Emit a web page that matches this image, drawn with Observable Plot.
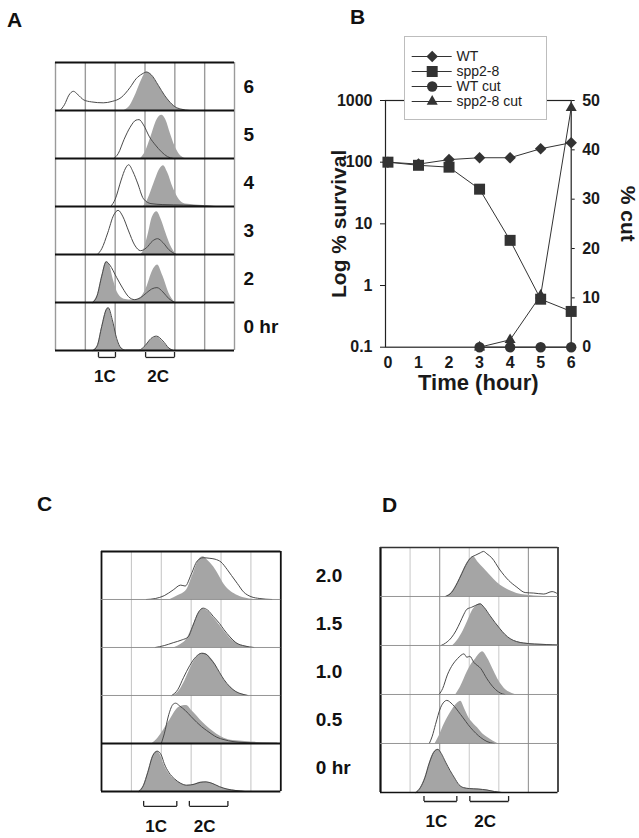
<!DOCTYPE html>
<html><head><meta charset="utf-8">
<script src="https://cdn.jsdelivr.net/npm/d3@7"></script>
<script src="https://cdn.jsdelivr.net/npm/@observablehq/plot@0.6"></script>
<style>
body{margin:0;background:#fff;}
#fig{position:relative;width:639px;height:838px;overflow:hidden;background:#fff;font-family:"Liberation Sans",Arial,Helvetica,sans-serif;color:#111;}
.panel{position:absolute;}
.panel svg{display:block;}
.letter{position:absolute;font-weight:bold;font-size:21px;line-height:1;}
.legend{position:absolute;box-sizing:border-box;border:1px solid #bdbdbd;background:#fff;}
</style></head><body><div id="fig"></div>
<script>
// ---------------- DATA ----------------
// Panel A: flow-cytometry histograms (x in grid columns 0–6, y as fraction of row height)
const rowsA = ["6", "5", "4", "3", "2", "0 hr"];
const fillA = [
  [[2.3,0],[2.5,0.1],[2.7,0.35],[2.9,0.65],[3.05,0.8],[3.2,0.75],[3.45,0.52],[3.65,0.32],[3.8,0.2],[4.0,0.08],[4.2,0.02],[4.4,0]],
  [[2.85,0],[3.0,0.12],[3.2,0.45],[3.4,0.8],[3.56,0.9],[3.7,0.8],[3.85,0.52],[4.0,0.26],[4.15,0.09],[4.35,0]],
  [[2.95,0],[3.1,0.15],[3.3,0.48],[3.5,0.78],[3.62,0.85],[3.75,0.72],[3.95,0.38],[4.15,0.14],[4.35,0.05],[4.7,0.03],[5.2,0.01],[5.4,0]],
  [[2.85,0],[2.95,0.08],[3.1,0.4],[3.25,0.78],[3.4,0.89],[3.55,0.72],[3.7,0.45],[3.85,0.2],[4.05,0]],
  [[1.25,0],[1.4,0.15],[1.55,0.55],[1.7,0.85],[1.8,0.8],[1.95,0.45],[2.1,0.18],[2.3,0.07],[2.6,0.05],[2.85,0.1],[3.05,0.3],[3.25,0.65],[3.42,0.78],[3.6,0.55],[3.8,0.2],[4.0,0]],
  [[1.25,0],[1.4,0.1],[1.55,0.5],[1.7,0.85],[1.77,0.89],[1.9,0.65],[2.05,0.25],[2.2,0.05],[2.35,0],[2.85,0],[3.0,0.08],[3.2,0.22],[3.4,0.28],[3.6,0.18],[3.8,0.05],[3.95,0]]
];
const lineA = [
  [[0.15,0],[0.3,0.12],[0.45,0.32],[0.6,0.4],[0.75,0.33],[0.95,0.22],[1.2,0.18],[1.6,0.16],[1.9,0.19],[2.2,0.27],[2.5,0.48],[2.7,0.66],[2.9,0.76],[3.05,0.8],[3.2,0.75],[3.45,0.52],[3.65,0.32],[3.8,0.2],[4.0,0.08],[4.2,0.03],[4.5,0]],
  [[1.95,0],[2.1,0.1],[2.3,0.4],[2.5,0.65],[2.7,0.8],[2.8,0.81],[2.95,0.7],[3.15,0.45],[3.35,0.28],[3.55,0.14],[3.75,0.04],[3.95,0]],
  [[1.85,0],[2.0,0.15],[2.2,0.55],[2.35,0.8],[2.45,0.87],[2.6,0.72],[2.75,0.49],[2.95,0.16],[3.2,0.06],[3.6,0.04],[4.3,0.03],[5.0,0.01],[5.3,0]],
  [[1.4,0],[1.55,0.12],[1.75,0.45],[1.95,0.82],[2.1,0.92],[2.25,0.8],[2.45,0.49],[2.65,0.2],[2.85,0.08],[3.05,0.14],[3.25,0.28],[3.42,0.33],[3.6,0.25],[3.8,0.1],[4.05,0]],
  [[1.25,0],[1.4,0.15],[1.55,0.55],[1.7,0.85],[1.82,0.78],[2.05,0.52],[2.25,0.3],[2.45,0.12],[2.65,0.06],[2.85,0.1],[3.05,0.2],[3.22,0.28],[3.4,0.31],[3.6,0.22],[3.8,0.08],[4.0,0]],
  [[1.25,0],[1.4,0.1],[1.55,0.5],[1.7,0.85],[1.77,0.89],[1.9,0.65],[2.05,0.25],[2.2,0.05],[2.35,0.01],[2.8,0.01],[3.0,0.1],[3.2,0.25],[3.38,0.3],[3.6,0.2],[3.8,0.05],[3.95,0]]
];
const bracketsA = [{label: "1C", x1: 1.44, x2: 2.01}, {label: "2C", x1: 3.02, x2: 3.99}];

// Panel B: survival (log) and % cut
const hours = [0, 1, 2, 3, 4, 5, 6];
const wtSurvival = [100, 93, 110, 118, 118, 165, 207];
const sppSurvival = [100, 89, 83, 36.5, 5.4, 0.6, 0.38];
const cutHours = [3, 4, 5, 6];
const wtCut = [0, 0, 0, 0];
const sppCut = [0, 1.5, 10.5, 48.5];
const survivalTicks = [0.1, 1, 10, 100, 1000];
const cutTicks = [0, 10, 20, 30, 40, 50];
const seriesNames = ["WT", "spp2-8", "WT cut", "spp2-8 cut"];

// Panel C
const rowsC = ["2.0", "1.5", "1.0", "0.5", "0 hr"];
const fillC = [
  [[2.3,0],[2.55,0.08],[2.85,0.2],[3.05,0.5],[3.25,0.82],[3.4,0.89],[3.55,0.82],[3.75,0.68],[3.95,0.48],[4.1,0.32],[4.3,0.18],[4.5,0.1],[4.8,0.03],[5.1,0]],
  [[2.45,0],[2.65,0.06],[2.85,0.17],[3.05,0.44],[3.25,0.72],[3.4,0.8],[3.55,0.76],[3.75,0.62],[3.95,0.47],[4.1,0.35],[4.3,0.2],[4.5,0.1],[4.8,0.03],[5.1,0]],
  [[2.4,0],[2.6,0.1],[2.8,0.32],[3.05,0.66],[3.25,0.84],[3.42,0.88],[3.6,0.82],[3.8,0.66],[3.95,0.48],[4.1,0.33],[4.3,0.18],[4.5,0.08],[4.7,0.03],[4.9,0]],
  [[1.7,0],[1.9,0.12],[2.07,0.27],[2.3,0.5],[2.5,0.7],[2.7,0.78],[2.85,0.79],[3.0,0.7],[3.2,0.57],[3.4,0.43],[3.63,0.3],[3.85,0.2],[4.1,0.11],[4.4,0.06],[4.8,0.04],[5.3,0.02],[5.9,0.01]],
  [[1.25,0],[1.4,0.12],[1.55,0.4],[1.72,0.75],[1.87,0.84],[1.98,0.75],[2.1,0.55],[2.25,0.38],[2.45,0.25],[2.65,0.17],[2.85,0.13],[3.1,0.15],[3.3,0.19],[3.5,0.2],[3.7,0.17],[3.95,0.1],[4.2,0.05],[4.5,0.02],[4.8,0]]
];
const lineC = [
  [[1.5,0],[1.8,0.02],[2.1,0.08],[2.4,0.2],[2.65,0.3],[2.8,0.28],[3.0,0.52],[3.2,0.8],[3.4,0.87],[3.6,0.86],[3.8,0.84],[4.0,0.78],[4.2,0.63],[4.35,0.5],[4.55,0.33],[4.75,0.16],[5.0,0.06],[5.3,0.02],[5.7,0]],
  [[1.8,0],[2.1,0.04],[2.4,0.1],[2.7,0.16],[2.9,0.22],[3.05,0.44],[3.25,0.74],[3.4,0.82],[3.55,0.78],[3.75,0.64],[3.95,0.5],[4.1,0.37],[4.3,0.22],[4.5,0.1],[4.8,0.03],[5.1,0]],
  [[2.35,0],[2.55,0.12],[2.75,0.38],[2.95,0.62],[3.15,0.8],[3.35,0.88],[3.5,0.86],[3.65,0.76],[3.8,0.64],[3.95,0.48],[4.1,0.33],[4.3,0.18],[4.5,0.08],[4.7,0.03],[4.9,0]],
  [[2.0,0],[2.1,0.2],[2.25,0.6],[2.4,0.82],[2.48,0.84],[2.62,0.78],[2.8,0.69],[3.0,0.56],[3.19,0.44],[3.35,0.35],[3.52,0.27],[3.7,0.19],[3.86,0.13],[4.1,0.08],[4.4,0.04],[4.8,0.02],[5.3,0]],
  [[1.25,0],[1.4,0.12],[1.55,0.4],[1.72,0.75],[1.87,0.84],[2.0,0.76],[2.1,0.58],[2.25,0.4],[2.45,0.26],[2.65,0.17],[2.85,0.13],[3.1,0.15],[3.3,0.19],[3.5,0.2],[3.7,0.17],[3.95,0.1],[4.2,0.05],[4.5,0.02],[4.8,0]]
];
const bracketsC = [{label: "1C", x1: 1.41, x2: 2.52}, {label: "2C", x1: 2.94, x2: 4.23}];

// Panel D
const rowsD = ["2.0", "1.5", "1.0", "0.5", "0 hr"];
const fillD = [
  [[2.2,0],[2.4,0.08],[2.6,0.28],[2.75,0.47],[2.92,0.68],[3.05,0.78],[3.14,0.81],[3.3,0.7],[3.48,0.58],[3.76,0.4],[3.95,0.28],[4.16,0.19],[4.4,0.11],[4.61,0.06],[4.9,0.03],[5.2,0.01],[5.5,0]],
  [[2.45,0],[2.6,0.1],[2.8,0.3],[2.95,0.5],[3.08,0.68],[3.22,0.8],[3.37,0.85],[3.5,0.78],[3.7,0.61],[3.87,0.47],[4.04,0.34],[4.2,0.23],[4.38,0.14],[4.6,0.08],[4.84,0.05],[5.2,0.03],[5.6,0.02],[6.0,0.01]],
  [[2.55,0],[2.7,0.15],[2.94,0.47],[3.08,0.62],[3.22,0.73],[3.35,0.83],[3.45,0.87],[3.6,0.76],[3.84,0.47],[4.0,0.28],[4.18,0.13],[4.35,0.05],[4.55,0]],
  [[1.85,0],[1.98,0.15],[2.15,0.39],[2.3,0.56],[2.43,0.69],[2.6,0.82],[2.71,0.86],[2.85,0.7],[2.99,0.52],[3.15,0.4],[3.28,0.32],[3.45,0.2],[3.62,0.12],[3.8,0.05],[3.96,0]],
  [[1.2,0],[1.35,0.1],[1.5,0.3],[1.65,0.6],[1.8,0.82],[1.94,0.88],[2.05,0.8],[2.2,0.62],[2.35,0.45],[2.5,0.3],[2.65,0.16],[2.8,0.1],[3.0,0.08],[3.3,0.07],[3.6,0.05],[3.85,0.02],[4.1,0]]
];
const lineD = [
  [[2.2,0],[2.4,0.08],[2.6,0.28],[2.75,0.47],[2.92,0.68],[3.05,0.79],[3.2,0.84],[3.37,0.89],[3.48,0.92],[3.6,0.87],[3.76,0.79],[4.04,0.54],[4.33,0.33],[4.61,0.19],[4.89,0.08],[5.18,0.07],[5.52,0.05],[5.8,0.1],[6.0,0.05]],
  [[2.05,0],[2.2,0.05],[2.41,0.17],[2.55,0.3],[2.69,0.47],[2.82,0.64],[2.92,0.74],[3.08,0.78],[3.22,0.82],[3.37,0.85],[3.5,0.78],[3.7,0.61],[3.87,0.47],[4.04,0.34],[4.2,0.23],[4.38,0.14],[4.6,0.08],[4.84,0.05],[5.2,0.03],[5.6,0.02],[6.0,0.01]],
  [[1.98,0],[2.1,0.12],[2.26,0.4],[2.45,0.62],[2.6,0.73],[2.72,0.8],[2.82,0.83],[2.92,0.76],[3.02,0.78],[3.15,0.66],[3.39,0.53],[3.6,0.32],[3.84,0.13],[4.05,0.03],[4.2,0]],
  [[1.65,0],[1.75,0.15],[1.86,0.39],[2.03,0.73],[2.15,0.85],[2.24,0.88],[2.43,0.8],[2.71,0.59],[3.05,0.32],[3.39,0.12],[3.6,0.04],[3.84,0]],
  [[1.2,0],[1.35,0.1],[1.5,0.3],[1.65,0.6],[1.8,0.82],[1.94,0.88],[2.05,0.8],[2.2,0.62],[2.35,0.45],[2.5,0.3],[2.65,0.16],[2.8,0.1],[3.0,0.08],[3.3,0.07],[3.6,0.05],[3.85,0.02],[4.1,0]]
];
const bracketsD = [{label: "1C", x1: 1.47, x2: 2.58}, {label: "2C", x1: 3.02, x2: 4.33}];

// ---------------- DRAWING ----------------
const FONT = '"Liberation Sans", Arial, Helvetica, sans-serif';
const fig = document.getElementById("fig");
function place(node, left, top, w, h, cls = "panel") {
  const div = document.createElement("div");
  div.className = cls;
  Object.assign(div.style, {left: left + "px", top: top + "px", width: w + "px", height: h + "px"});
  div.appendChild(node);
  fig.appendChild(div);
  return div;
}
function letter(t, left, top) {
  const d = document.createElement("div");
  d.className = "letter"; d.textContent = t;
  d.style.left = left + "px"; d.style.top = top + "px";
  fig.appendChild(d);
}

function histPanel(o) {
  const [fl, fr, ft, fb] = o.frame;
  const n = o.rows.length;
  const rowH = (fb - ft) / n;
  const last = o.rows[n - 1];
  const width = (fr - fl) + o.mL + o.mR;
  const height = (fb - ft) + o.mT + o.mB;
  const toRows = curves => o.rows.flatMap((r, i) => curves[i].map(([x, y]) => ({row: r, x, y})));
  const yb = -o.bracketGap / rowH;
  const yt = yb + o.tickLen / rowH;
  const ends = o.brackets.flatMap(b => [b.x1, b.x2]);
  const hl = [{row: o.rows[0], y: 1, ...o.topLine}].concat(o.rows.map((r, i) => ({row: r, y: 0, ...o.baseLine(i)})));
  const marks = [
    ...d3.range(0, 7).map(i => Plot.ruleX([i], {x: d => d, ...o.vLine(i)})),
    Plot.areaY(toRows(o.fills), {x: "x", y: "y", fy: "row", curve: "monotone-x", fill: "#a5a5a5"}),
    Plot.lineY(toRows(o.lines), {x: "x", y: "y", fy: "row", curve: "monotone-x", stroke: "#4a4a4a", strokeWidth: 1}),
    ...hl.map(h => Plot.ruleY([h], {y: "y", fy: "row", stroke: h.stroke, strokeWidth: h.strokeWidth})),
    Plot.link(o.brackets, {x1: "x1", x2: "x2", y1: yb, y2: yb, fy: () => last, stroke: "#222", strokeWidth: 1.3}),
    Plot.ruleX(ends, {x: d => d, y1: yb, y2: yt, fy: () => last, stroke: "#222", strokeWidth: 1.3}),
    Plot.text(o.brackets, {x: d => (d.x1 + d.x2) / 2, y: yb, dx: o.labelDx, dy: o.textGap - o.bracketGap,
      text: "label", fy: () => last, fontSize: 17, fontWeight: "bold", lineAnchor: "middle", fill: "#111"})
  ];
  if (o.rowLabels) marks.push(Plot.text(o.rows, {fy: d => d, text: d => d, frameAnchor: "right", textAnchor: "start",
      lineAnchor: "middle", dx: o.rowDx, fontSize: 19, fontWeight: "bold", fill: "#111"}));
  const svg = Plot.plot({
    width, height, marginLeft: o.mL, marginRight: o.mR, marginTop: o.mT, marginBottom: o.mB,
    x: {domain: [0, 6], axis: null}, y: {domain: [0, 1], axis: null},
    fy: {domain: o.rows, padding: 0, axis: null},
    style: {background: "transparent", overflow: "visible", fontFamily: FONT, color: "#111"},
    marks
  });
  place(svg, fl - o.mL, ft - o.mT, width, height);
}

const black = w => ({stroke: "#111", strokeWidth: w});

// Panel A
histPanel({
  rows: rowsA, fills: fillA, lines: lineA, brackets: bracketsA, rowLabels: true,
  frame: [55, 234, 61, 351], mL: 10, mR: 60, mT: 10, mB: 40,
  rowDx: 9, bracketGap: 7, tickLen: 5, textGap: 26, labelDx: -2,
  vLine: i => ({stroke: "#9a9a9a", strokeWidth: 1.4}),
  topLine: black(1.8), baseLine: i => black(1.8)
});
// Panel C
histPanel({
  rows: rowsC, fills: fillC, lines: lineC, brackets: bracketsC, rowLabels: true,
  frame: [100.7, 280, 550, 791.7], mL: 10, mR: 80, mT: 10, mB: 50,
  rowDx: 35, bracketGap: 15, tickLen: 5, textGap: 35, labelDx: -4,
  vLine: i => (i === 0 || i === 6) ? black(1.8) : {stroke: "#c2c2c2", strokeWidth: 1},
  topLine: black(1.8), baseLine: i => i >= 3 ? black(1.8) : {stroke: "#8a8a8a", strokeWidth: 0.9}
});
// Panel D
histPanel({
  rows: rowsD, fills: fillD, lines: lineD, brackets: bracketsD, rowLabels: false,
  frame: [380, 557.5, 547.3, 792.7], mL: 10, mR: 12, mT: 10, mB: 50,
  bracketGap: 9, tickLen: 5, textGap: 29, labelDx: -4,
  vLine: i => i === 0 ? black(2.2) : i === 6 ? black(1.5) : (i === 2 || i === 5) ? {stroke: "#9c9c9c", strokeWidth: 1.2} : {stroke: "#c8c8c8", strokeWidth: 1},
  topLine: {stroke: "#333", strokeWidth: 1.3}, baseLine: i => i === 4 ? black(1.6) : {stroke: "#8a8a8a", strokeWidth: 0.9}
});

// Panel B
const B = {left: 320, top: 90, width: 319, height: 307, fl: 385, fr: 570.7, ft: 100, fb: 346.7};
const common = {
  width: B.width, height: B.height,
  marginLeft: B.fl - B.left, marginRight: B.left + B.width - B.fr,
  marginTop: B.ft - B.top, marginBottom: B.top + B.height - B.fb,
  style: {background: "transparent", overflow: "visible", fontFamily: FONT, fontSize: "16px", fontWeight: "bold", color: "#1a1a1a"}
};
const xDom = [-0.08, 6];
const wtS = hours.map((t, i) => ({t, v: wtSurvival[i]}));
const spS = hours.map((t, i) => ({t, v: sppSurvival[i]}));
const wtC = cutHours.map((t, i) => ({t, v: wtCut[i]}));
const spC = cutHours.map((t, i) => ({t, v: sppCut[i]}));
const INK = "#333";
const symbolOf = {"WT": ["diamond2", 5.2], "spp2-8": ["square", 6.2], "WT cut": ["circle", 5.2], "spp2-8 cut": ["triangle", 4.1]};

const plotSurv = Plot.plot({
  ...common,
  x: {domain: xDom, ticks: hours, tickFormat: d => String(d), tickSize: 0, tickPadding: 9, label: null},
  y: {type: "log", domain: [0.1, 1000], ticks: survivalTicks, tickFormat: d => String(d), tickSize: 5, tickPadding: 8, label: null},
  marks: [
    Plot.frame({stroke: "#222", strokeWidth: 1.2}),
    Plot.line(wtS, {x: "t", y: "v", stroke: INK, strokeWidth: 1}),
    Plot.line(spS, {x: "t", y: "v", stroke: INK, strokeWidth: 1}),
    Plot.dot(wtS, {x: "t", y: "v", symbol: symbolOf["WT"][0], r: symbolOf["WT"][1], fill: INK}),
    Plot.dot(spS, {x: "t", y: "v", symbol: symbolOf["spp2-8"][0], r: symbolOf["spp2-8"][1], fill: INK}),
    Plot.text(["Log % survival"], {text: d => d, frameAnchor: "left", textAnchor: "middle", lineAnchor: "middle", rotate: -90, dx: -46, fontSize: 21})
  ]
});
place(plotSurv, B.left, B.top, B.width, B.height);

const plotCut = Plot.plot({
  ...common,
  x: {domain: xDom, axis: null},
  y: {domain: [0, 50], ticks: cutTicks, axis: "right", tickSize: 3, tickPadding: 8, label: null},
  marks: [
    Plot.line(wtC, {x: "t", y: "v", stroke: INK, strokeWidth: 1}),
    Plot.line(spC, {x: "t", y: "v", stroke: INK, strokeWidth: 1}),
    Plot.dot(wtC, {x: "t", y: "v", symbol: symbolOf["WT cut"][0], r: symbolOf["WT cut"][1], fill: INK}),
    Plot.dot(spC, {x: "t", y: "v", symbol: symbolOf["spp2-8 cut"][0], r: symbolOf["spp2-8 cut"][1], fill: INK}),
    Plot.text(["% cut"], {text: d => d, frameAnchor: "right", textAnchor: "middle", lineAnchor: "middle", rotate: 90, dx: 57, dy: -10, fontSize: 21}),
    Plot.text(["Time (hour)"], {text: d => d, frameAnchor: "bottom", textAnchor: "middle", lineAnchor: "middle", dy: 36, fontSize: 22})
  ]
});
place(plotCut, B.left, B.top, B.width, B.height);

// Legend for panel B
const LG = {left: 404, top: 36, width: 143, height: 84};
const legendPlot = Plot.plot({
  width: LG.width - 2, height: LG.height - 2, margin: 0,
  x: {domain: [0, LG.width - 2], range: [0, LG.width - 2], axis: null},
  y: {type: "point", domain: seriesNames, range: [11.3, 71.3], axis: null},
  style: {background: "transparent", overflow: "visible", fontFamily: FONT, color: "#111"},
  marks: [
    Plot.ruleY(seriesNames, {y: d => d, x1: 6.7, x2: 46.7, stroke: INK, strokeWidth: 1}),
    ...seriesNames.map(s => Plot.dot([s], {x: 26.7, y: d => d, symbol: symbolOf[s][0], r: symbolOf[s][1], fill: INK})),
    Plot.text(seriesNames, {x: 51, y: d => d, text: d => d, textAnchor: "start", lineAnchor: "middle", fontSize: 14, fill: "#222"})
  ]
});
place(legendPlot, LG.left, LG.top, LG.width, LG.height, "legend");

// Panel letters
letter("A", 7, 9);
letter("B", 350, 5.5);
letter("C", 37, 493);
letter("D", 382, 494);
</script></body></html>
